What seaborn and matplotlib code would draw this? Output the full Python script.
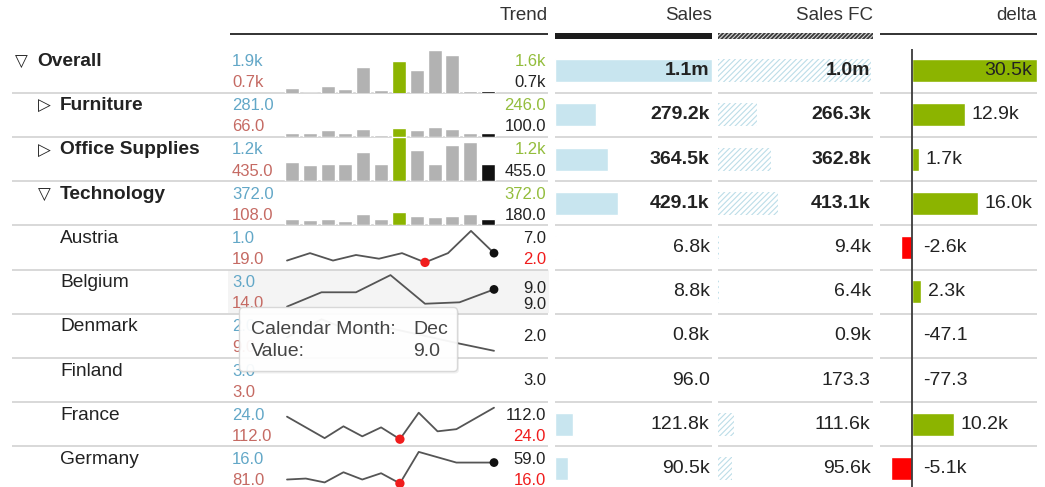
import numpy as np
import pandas as pd
import matplotlib
matplotlib.use("Agg")
import matplotlib.pyplot as plt
from matplotlib.patches import Rectangle, FancyBboxPatch
import seaborn as sns

# ---------------- data ----------------
rows = ["Overall", "Furniture", "Office Supplies", "Technology",
        "Austria", "Belgium", "Denmark", "Finland", "France", "Germany"]
levels = [0, 1, 1, 1, 2, 2, 2, 2, 2, 2]
toggles = ["▽", "▷", "▷", "▽", "", "", "", "", "", ""]
months = ["Jan", "Feb", "Mar", "Apr", "May", "Jun",
          "Jul", "Aug", "Sep", "Oct", "Nov", "Dec"]
highlight_month = "Jul"

sales = [1072.8e3, 279.2e3, 364.5e3, 429.1e3, 6.8e3, 8.8e3, 812.0, 96.0, 121.8e3, 90.5e3]
sales_fc = [1042.2e3, 266.3e3, 362.8e3, 413.1e3, 9.4e3, 6.4e3, 859.1, 173.3, 111.6e3, 95.6e3]
delta = [30.5e3, 12.9e3, 1.7e3, 16.0e3, -2.6e3, 2.3e3, -47.1, -77.3, 10.2e3, -5.1e3]

# monthly trend (bars for aggregated rows, lines for countries)
trend_overall = [840, 700, 900, 810, 1430, 780, 1600, 1340, 1900, 1760, 750, 740]
trend_furniture = [110, 105, 180, 100, 230, 66, 246, 180, 281, 215, 105, 100]
trend_office = [510, 435, 470, 470, 780, 470, 1200, 860, 470, 990, 1070, 455]
trend_technology = [185, 150, 185, 130, 310, 185, 372, 265, 215, 265, 320, 180]
trend_austria = [3, 7, 3, 6, 4, 7, 2, 7, 19, 7]
trend_belgium = [3, 8, 8, 14, 4, 4.5, 9]
trend_denmark = [5, 9, 6, 7, 5.3, 3.6, 2]
trend_finland = [3]
trend_france = [87, 57, 27, 60, 32, 57, 24, 98, 46, 52, 82, 112]
trend_germany = [24, 26, 18, 39, 24, 37, 16, 81, 70, 59, 59, 59]
trends = [trend_overall, trend_furniture, trend_office, trend_technology,
          trend_austria, trend_belgium, trend_denmark, trend_finland,
          trend_france, trend_germany]

trend_left_top = [1900, 281, 1200, 372, 1, 3, 2, 3, 24, 16]
trend_left_bottom = [700, 66, 435, 108, 19, 14, 9, 3, 112, 81]
trend_right_top = [1600, 246, 1200, 372, 7, 9, 2, 3, 112, 59]
trend_right_bottom = [700, 100, 455, 180, 2, 9, None, None, 24, 16]
trend_right_bottom_is_min = [False, False, False, False, True, False, False, False, True, True]

tooltip_month = "Dec"
tooltip_value = 9.0


def fmt(v):
    a = abs(v)
    if a >= 1e6:
        return f"{v / 1e6:.1f}m"
    if a >= 500:
        return f"{v / 1e3:.1f}k"
    return f"{v:.1f}"


# ---------------- style ----------------
sns.set_theme(style="white")
plt.rcParams["font.family"] = ["Liberation Sans", "DejaVu Sans"]
plt.rcParams["hatch.linewidth"] = 0.8

W, H = 1045, 487
ROW0, RH = 48.6, 44.2
BLUE_T = "#62a7c7"
RED_T = "#c56a63"
GREEN_T = "#93bd3c"
RED = "#f01c1c"
GREEN = "#8cb400"
GRAY = "#b2b2b2"
DARK = "#222222"
SEP = "#d2d2d2"
SALES_C = "#c8e5ef"

fig = plt.figure(figsize=(W / 100, H / 100), dpi=100)
fig.patch.set_facecolor("white")


def add_ax(x0, y0, x1, y1):
    return fig.add_axes([x0 / W, 1 - y1 / H, (x1 - x0) / W, (y1 - y0) / H])


def rtop(i):
    return ROW0 + i * RH


bg = add_ax(0, 0, W, H)
bg.set_xlim(0, W)
bg.set_ylim(H, 0)
bg.axis("off")

# headers
hdr_kw = dict(fontsize=13.5, color="#333333", ha="right", va="center")
bg.text(548, 16, "Trend", **hdr_kw)
bg.text(712, 16, "Sales", **hdr_kw)
bg.text(873, 16, "Sales FC", **hdr_kw)
bg.text(1037, 16, "delta", **hdr_kw)
bg.plot([230, 548], [33.5, 33.5], color=DARK, lw=1.3, solid_capstyle="butt")
bg.plot([880, 1037], [33.5, 33.5], color=DARK, lw=1.3, solid_capstyle="butt")
bg.add_patch(Rectangle((555, 33), 157, 6, facecolor="#1c1c1c", lw=0))
bg.add_patch(Rectangle((718, 33), 155, 6, facecolor="#3a3a3a", edgecolor="#d8d8d8",
                       hatch="////////", lw=0))

# highlighted row (Belgium)
bg.add_patch(Rectangle((228, rtop(5) + 0.8), 321, RH - 1.6, facecolor="#f4f4f4", lw=0, zorder=0))

# separators
for i in range(1, len(rows)):
    y = rtop(i)
    for x0, x1 in [(12, 548), (555, 712), (718, 873), (880, 1037)]:
        bg.plot([x0, x1], [y, y], color=SEP, lw=1.2, solid_capstyle="butt")

# row labels
for i, (lab, lev, tg) in enumerate(zip(rows, levels, toggles)):
    y = rtop(i) + 13
    weight = "bold" if lev < 2 else "normal"
    tx = [37, 60, 60][lev]
    if tg:
        bg.text(tx - 22, y + 0.5, tg, fontsize=12, fontweight="bold",
                family="DejaVu Sans", color=DARK, ha="left", va="center")
    bg.text(tx, y, lab, fontsize=13.8, fontweight=weight, color=DARK, ha="left", va="center")

# trend labels
for i in range(len(rows)):
    t = rtop(i)
    agg = levels[i] < 2
    bg.text(232, t + 13, fmt(trend_left_top[i]), fontsize=12, color=BLUE_T, ha="left", va="center")
    bg.text(232, t + 34, fmt(trend_left_bottom[i]), fontsize=12, color=RED_T, ha="left", va="center")
    if trend_right_bottom[i] is None:
        bg.text(546, t + 22.5, fmt(trend_right_top[i]), fontsize=12, color=DARK, ha="right", va="center")
    else:
        y1, y2 = (t + 19, t + 34.5) if rows[i] == "Belgium" else (t + 13, t + 34)
        bg.text(546, y1, fmt(trend_right_top[i]), fontsize=12,
                color=GREEN_T if agg else DARK, ha="right", va="center")
        bg.text(546, y2, fmt(trend_right_bottom[i]), fontsize=12,
                color=RED if trend_right_bottom_is_min[i] else DARK, ha="right", va="center")

# ---------------- sparklines ----------------
shared_max = max(max(trend_furniture), max(trend_office), max(trend_technology))
for i, vals in enumerate(trends):
    t = rtop(i)
    if levels[i] < 2:
        if i == 0:
            ax = add_ax(283, 50, 497, t + RH)
        else:
            ax = add_ax(283, t, 497, t + RH)
        df = pd.DataFrame({"month": months, "value": vals})
        pal = {m: (GREEN if m == highlight_month else "#111111" if m == months[-1] else GRAY)
               for m in months}
        sns.barplot(data=df, x="month", y="value", hue="month", palette=pal, legend=False,
                    width=0.78, saturation=1, errorbar=None, ax=ax)
        ax.set_xlim(-0.5, 11.5)
        if i == 0:
            ax.set_ylim(min(vals), max(vals))
        else:
            ax.set_ylim(0, shared_max)
        ax.axis("off")
    else:
        ax = add_ax(287, t + 5.5, 494, t + 37)
        n = len(vals)
        x = np.arange(n)
        if n > 1:
            sns.lineplot(x=x, y=vals, color="#555555", lw=1.3, ax=ax, clip_on=False)
            imin = int(np.argmin(vals))
            if 0 < imin < n - 1:
                sns.scatterplot(x=[x[imin]], y=[vals[imin]], color=RED, s=45, edgecolor="none",
                                ax=ax, clip_on=False, zorder=5)
            if vals[-1] != max(vals) and vals[-1] != min(vals):
                sns.scatterplot(x=[x[-1]], y=[vals[-1]], color="#111111", s=40, edgecolor="none",
                                ax=ax, clip_on=False, zorder=5)
            ax.set_xlim(0, n - 1)
            ax.set_ylim(min(vals), max(vals))
        ax.axis("off")

# ---------------- Sales / Sales FC ----------------
ybottom = -0.5 + (H - ROW0) / RH
df_main = pd.DataFrame({"row": rows, "sales": sales, "fc": sales_fc, "delta": delta})
df_main["sign"] = np.where(df_main["delta"] >= 0, "pos", "neg")
xmax_sales = max(sales)

sax = add_ax(555, ROW0, 712, H)
sns.barplot(data=df_main, x="sales", y="row", orient="h", color=SALES_C, saturation=1,
            width=0.52, errorbar=None, ax=sax)
sax.set_xlim(0, xmax_sales)
sax.set_ylim(ybottom, -0.5)
sax.axis("off")
for i, v in enumerate(sales):
    sax.text(0.985, i, fmt(v), transform=sax.get_yaxis_transform(), fontsize=14,
             fontweight="bold" if levels[i] < 2 else "normal", color=DARK, ha="right", va="center")

fax = add_ax(718, ROW0, 873, H)
sns.barplot(data=df_main, x="fc", y="row", orient="h", color="white", saturation=1,
            width=0.52, errorbar=None, ax=fax)
for p in fax.patches:
    p.set_hatch("//////")
    p.set_edgecolor("#bcdde8")
    p.set_linewidth(0)
fax.set_xlim(0, xmax_sales * 155 / 157)
fax.set_ylim(ybottom, -0.5)
fax.axis("off")
for i, v in enumerate(sales_fc):
    fax.text(0.985, i, fmt(v), transform=fax.get_yaxis_transform(), fontsize=14,
             fontweight="bold" if levels[i] < 2 else "normal", color=DARK, ha="right", va="center")

# ---------------- delta ----------------
dax = add_ax(880, ROW0, 1037, H)
sns.barplot(data=df_main, x="delta", y="row", orient="h", hue="sign",
            palette={"pos": GREEN, "neg": "#ff0000"}, dodge=False, legend=False,
            saturation=1, width=0.52, errorbar=None, ax=dax)
dmax = max(delta)
dmin = -dmax * 32 / 125
dax.set_xlim(dmin, dmax)
dax.set_ylim(ybottom, -0.5)
dax.axvline(0, color="#3c3c3c", lw=1.3, zorder=4)
dax.axis("off")
span = dmax - dmin
for i, v in enumerate(delta):
    if v > 0 and (v - dmin) / span > 0.8:
        dax.annotate(fmt(v), (v, i), xytext=(-5, 0), textcoords="offset pixels",
                     fontsize=14, color=DARK, ha="right", va="center", zorder=6)
    else:
        off = 7 if v > 0 else 11
        dax.annotate(fmt(v), (max(v, 0), i), xytext=(off, 0), textcoords="offset pixels",
                     fontsize=14, color=DARK, ha="left", va="center", zorder=6)

# ---------------- tooltip ----------------
top = add_ax(0, 0, W, H)
top.set_xlim(0, W)
top.set_ylim(H, 0)
top.axis("off")
top.add_patch(FancyBboxPatch((241, 309.5), 218, 64, boxstyle="round,pad=0,rounding_size=4",
                             facecolor="#000000", alpha=0.06, lw=0))
top.add_patch(FancyBboxPatch((239.5, 307.5), 218, 64, boxstyle="round,pad=0,rounding_size=4",
                             facecolor="white", edgecolor="#d6d6d6", lw=1, alpha=0.94))
tt_kw = dict(fontsize=14, color="#444444", va="center", ha="left")
top.text(251, 329, "Calendar Month:", **tt_kw)
top.text(413, 329, tooltip_month, **tt_kw)
top.text(251, 351, "Value:", **tt_kw)
top.text(413, 351, fmt(tooltip_value), **tt_kw)

fig.savefig("out.png", dpi=100, facecolor="white")
